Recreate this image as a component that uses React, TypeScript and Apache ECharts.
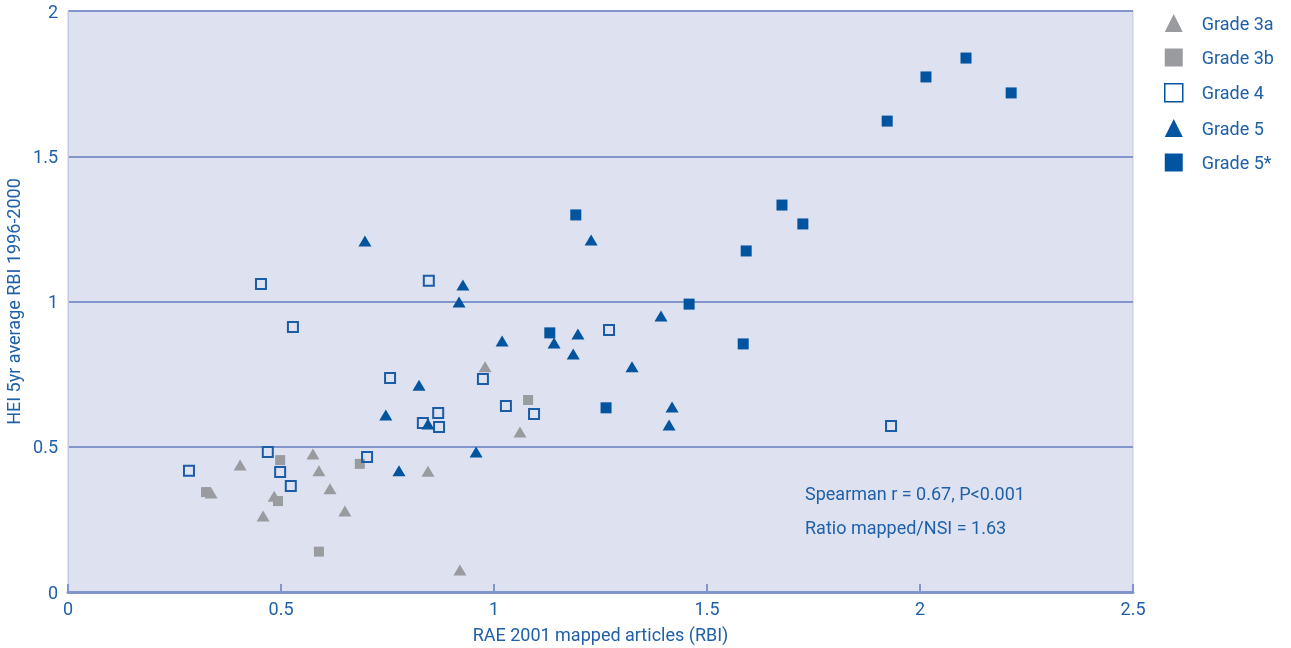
import React, { useEffect, useRef } from "react";
import * as echarts from "echarts";

// [RAE 2001 mapped articles (RBI), HEI 5yr average RBI 1996-2000]
const grade3a: [number, number][] = [
  [0.404, 0.437], [0.458, 0.262], [0.336, 0.341], [0.484, 0.33],
  [0.575, 0.475], [0.589, 0.417], [0.615, 0.355], [0.65, 0.279],
  [0.845, 0.416], [0.92, 0.076], [0.979, 0.775], [1.061, 0.551],
];
const grade3b: [number, number][] = [
  [0.324, 0.344], [0.493, 0.313], [0.498, 0.454], [0.589, 0.139],
  [0.685, 0.441], [1.08, 0.661],
];
const grade4: [number, number][] = [
  [0.284, 0.417], [0.469, 0.482], [0.498, 0.413], [0.523, 0.365],
  [0.702, 0.465], [0.453, 1.06], [0.528, 0.912], [0.756, 0.737],
  [0.847, 1.071], [0.869, 0.616], [0.833, 0.582], [0.871, 0.568],
  [0.974, 0.733], [1.028, 0.64], [1.094, 0.613], [1.27, 0.902],
  [1.932, 0.571],
];
const grade5: [number, number][] = [
  [0.697, 1.208], [0.927, 1.057], [0.918, 0.998], [0.824, 0.712],
  [0.746, 0.609], [0.845, 0.578], [1.019, 0.864], [1.141, 0.857],
  [1.197, 0.888], [1.186, 0.819], [1.324, 0.775], [0.958, 0.482],
  [0.777, 0.417], [1.228, 1.212], [1.392, 0.95], [1.418, 0.637],
  [1.411, 0.575],
];
const grade5star: [number, number][] = [
  [1.192, 1.298], [1.131, 0.892], [1.263, 0.634], [1.458, 0.991],
  [1.676, 1.332], [1.725, 1.267], [1.592, 1.174], [1.585, 0.854],
  [2.108, 1.838], [2.014, 1.773], [2.214, 1.718], [1.923, 1.621],
];

const seriesNames = ["Grade 3a", "Grade 3b", "Grade 4", "Grade 5", "Grade 5*"];
const statLines = ["Spearman r = 0.67, P<0.001", "Ratio mapped/NSI = 1.63"];

const GREY = "#9a9b9e";
const BLUE = "#0054a0";
const TEXT = "#1f60a8";
const GRIDLINE = "#8197cb";
const FONT = "Roboto, 'Noto Sans', sans-serif";
const FS = 18;

export default function App() {
  const ref = useRef<HTMLDivElement>(null);

  useEffect(() => {
    if (!ref.current) return;
    const chart = echarts.init(ref.current, undefined, { renderer: "svg" });
    chart.setOption({
      animation: false,
      textStyle: { fontFamily: FONT },
      grid: {
        left: 68,
        right: 158,
        top: 11,
        bottom: 56,
        containLabel: false,
        outerBoundsMode: "none",
        show: true,
        backgroundColor: "#dde1f0",
        borderColor: "#c3c9e4",
        borderWidth: 1,
      },
      legend: {
        orient: "vertical",
        left: 1159,
        top: 9,
        itemWidth: 18,
        itemHeight: 18,
        itemGap: 16.5,
        data: [
          { name: seriesNames[0], icon: "triangle", itemStyle: { color: GREY } },
          { name: seriesNames[1], icon: "rect", itemStyle: { color: GREY } },
          {
            name: seriesNames[2],
            icon: "rect",
            itemStyle: { color: "#ffffff", borderColor: BLUE, borderWidth: 1.5 },
          },
          { name: seriesNames[3], icon: "triangle", itemStyle: { color: BLUE } },
          { name: seriesNames[4], icon: "rect", itemStyle: { color: BLUE } },
        ],
        textStyle: {
          color: TEXT,
          fontSize: FS,
          lineHeight: 18,
          fontFamily: FONT,
          padding: [0, 0, 0, 14],
        },
      },
      xAxis: {
        type: "value",
        min: 0,
        max: 2.5,
        interval: 0.5,
        name: "RAE 2001 mapped articles (RBI)",
        nameLocation: "middle",
        nameGap: 33,
        nameTextStyle: { color: TEXT, fontSize: FS, fontFamily: FONT },
        axisLine: { show: true, lineStyle: { color: GRIDLINE, width: 3 } },
        axisTick: { show: true, inside: true, length: 8, lineStyle: { color: GRIDLINE, width: 2 } },
        axisLabel: { color: TEXT, fontSize: FS, margin: 7, fontFamily: FONT },
        splitLine: { show: false },
      },
      yAxis: {
        type: "value",
        min: 0,
        max: 2,
        interval: 0.5,
        name: "HEI 5yr average RBI 1996-2000",
        nameLocation: "middle",
        nameGap: 44,
        nameTextStyle: { color: TEXT, fontSize: FS, fontFamily: FONT },
        axisLine: { show: true, lineStyle: { color: "#c3c9e4", width: 1 } },
        axisTick: { show: false },
        axisLabel: { color: TEXT, fontSize: FS, margin: 10, fontFamily: FONT },
        splitLine: { show: true, lineStyle: { color: GRIDLINE, width: 2 } },
      },
      graphic: statLines.map((t, i) => ({
        type: "text",
        left: 805,
        top: 484 + i * 34,
        style: { text: t, fill: TEXT, fontSize: FS, fontFamily: FONT },
      })),
      series: [
        {
          name: seriesNames[0],
          type: "scatter",
          data: grade3a,
          symbol: "triangle",
          symbolSize: [13, 11],
          itemStyle: { color: GREY, opacity: 1 },
        },
        {
          name: seriesNames[1],
          type: "scatter",
          data: grade3b,
          symbol: "rect",
          symbolSize: 10,
          itemStyle: { color: GREY, opacity: 1 },
        },
        {
          name: seriesNames[2],
          type: "scatter",
          data: grade4,
          symbol: "rect",
          symbolSize: 10,
          itemStyle: { color: "rgba(0,0,0,0)", borderColor: "#1a5ca6", borderWidth: 2, opacity: 1 },
        },
        {
          name: seriesNames[3],
          type: "scatter",
          data: grade5,
          symbol: "triangle",
          symbolSize: [13, 11],
          itemStyle: { color: BLUE, opacity: 1 },
        },
        {
          name: seriesNames[4],
          type: "scatter",
          data: grade5star,
          symbol: "rect",
          symbolSize: 11,
          itemStyle: { color: BLUE, opacity: 1 },
        },
      ],
    });
    return () => chart.dispose();
  }, []);

  return (
    <div
      ref={ref}
      style={{ position: "fixed", left: 0, top: 0, width: 1291, height: 648 }}
    />
  );
}
